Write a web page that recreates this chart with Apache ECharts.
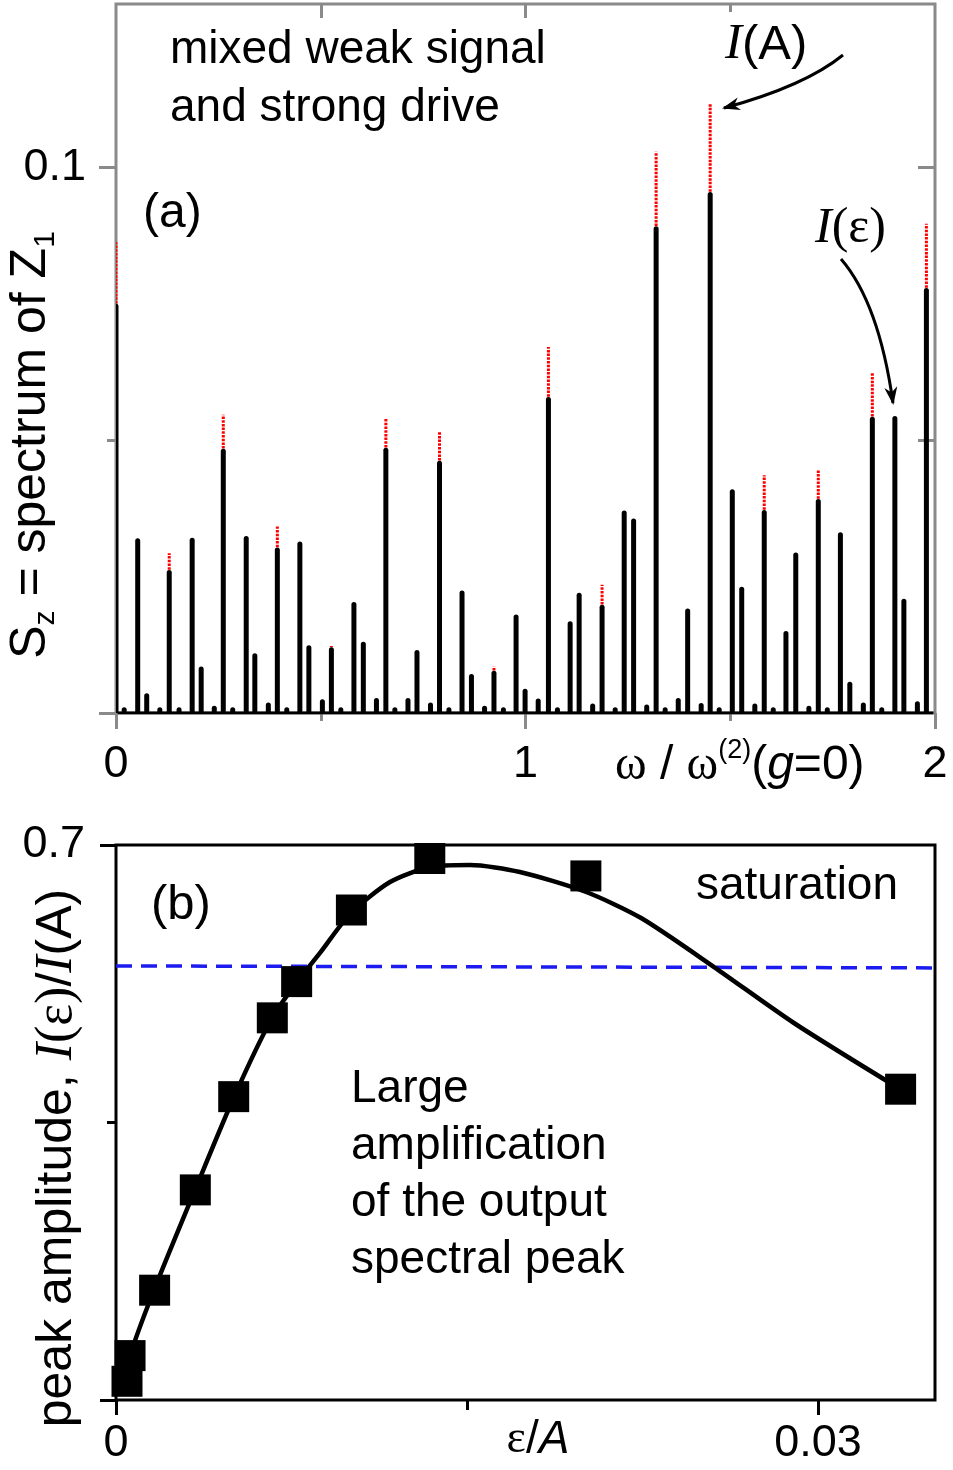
<!DOCTYPE html>
<html><head><meta charset="utf-8">
<script src="https://cdn.jsdelivr.net/npm/echarts@6/dist/echarts.min.js"></script>
<style>html,body{margin:0;padding:0;background:#fff}#c{width:953px;height:1470px}</style>
</head><body><div id="c"></div>
<script>
// ---------- Panel (a): spectrum ----------
const omega = [0.000,0.020,0.053,0.075,0.107,0.130,0.154,0.186,0.208,0.240,0.262,0.285,0.318,0.339,0.372,0.394,0.417,0.449,0.471,0.504,0.526,0.549,0.581,0.604,0.636,0.659,0.681,0.713,0.735,0.768,0.790,0.813,0.845,0.868,0.900,0.923,0.946,0.977,0.999,1.031,1.056,1.078,1.109,1.131,1.164,1.187,1.219,1.241,1.264,1.296,1.319,1.341,1.373,1.396,1.429,1.451,1.473,1.505,1.528,1.560,1.583,1.605,1.636,1.660,1.692,1.715,1.737,1.769,1.792,1.825,1.847,1.870,1.902,1.924,1.957,1.979];
const peakBlack = [0.0744,0.0004,0.0314,0.0030,0.0004,0.0256,0.0004,0.0315,0.0079,0.0007,0.0478,0.0004,0.0318,0.0103,0.0013,0.0297,0.0004,0.0308,0.0118,0.0019,0.0114,0.0004,0.0197,0.0124,0.0021,0.0480,0.0004,0.0021,0.0109,0.0013,0.0456,0.0004,0.0218,0.0065,0.0007,0.0071,0.0004,0.0174,0.0038,0.0020,0.0573,0.0004,0.0162,0.0214,0.0011,0.0192,0.0004,0.0365,0.0350,0.0009,0.0886,0.0004,0.0021,0.0185,0.0012,0.0949,0.0004,0.0404,0.0225,0.0011,0.0366,0.0004,0.0144,0.0288,0.0007,0.0386,0.0004,0.0325,0.0051,0.0013,0.0537,0.0004,0.0538,0.0203,0.0015,0.0773];
const peakRed = [0.0863,null,null,null,null,0.0293,null,null,null,null,0.0547,null,null,null,null,0.0342,null,null,null,null,0.0123,null,null,null,null,0.0540,null,null,null,null,0.0515,null,null,null,null,0.0085,null,null,null,null,0.0671,null,null,null,null,0.0235,null,null,null,null,0.1029,null,null,null,null,0.1118,null,null,null,null,0.0436,null,null,null,null,0.0446,null,null,null,null,0.0624,null,null,null,null,0.0897];
const xTicksA = [0, 1, 2];
const xMinorA = [0.5, 1.5];
const yTicksA = [0, 0.1];
const yMinorA = [0.05];

// ---------- Panel (b): peak amplitude ----------
const epsPts   = [0.00047,0.0006,0.00165,0.00339,0.00503,0.00668,0.00772,0.01006,0.01341,0.02008,0.03353];
const ratioPts = [0.0236,0.056,0.1385,0.265,0.3826,0.482,0.5277,0.618,0.683,0.661,0.392];
const fitEps   = [0.00047,0.000598,0.001624,0.003376,0.005043,0.006667,0.007735,0.008718,0.0100,0.01171,0.01342,0.01513,0.01726,0.02009,0.02244,0.02556,0.02897,0.0335];
const fitRatio = [0.02396,0.0555,0.1387,0.2649,0.3822,0.4818,0.5272,0.5638,0.6130,0.6533,0.6723,0.6748,0.6659,0.6407,0.6079,0.5461,0.4755,0.3923];
const thresholdEps = [0, 0.035];
const thresholdRatio = [0.5475, 0.545];
const xTicksB = [0, 0.03];
const xMinorB = [0.015];
const yTicksB = [0, 0.7];
const yMinorB = [0.35];

const SANS = "'Liberation Sans', Arial, sans-serif";
const SERIF = "'Liberation Serif', 'Times New Roman', serif";
const GRAY = '#8a8a8a';

const blackData = omega.map((w, i) => [w, peakBlack[i]]);
const redData = [];
omega.forEach((w, i) => { if (peakRed[i] != null) redData.push([w, peakBlack[i], peakRed[i]]); });

function tickAxis(o) {
  return Object.assign({
    type: 'value', axisLine: {show: false, onZero: false}, splitLine: {show: false},
    axisLabel: {show: false}
  }, o);
}

const chart = echarts.init(document.getElementById('c'), null, {renderer: 'canvas'});

function arrowHead(tip, from, len, half) {
  const dx = tip[0] - from[0], dy = tip[1] - from[1];
  const L = Math.hypot(dx, dy), ux = dx / L, uy = dy / L;
  const px = -uy, py = ux;
  const bx = tip[0] - ux * len, by = tip[1] - uy * len;
  const nx = tip[0] - ux * len * 0.7, ny = tip[1] - uy * len * 0.7;
  return [tip, [bx + px * half, by + py * half], [nx, ny], [bx - px * half, by - py * half]];
}

const arrA = {s: [843, 55], c: [805, 86], e: [724, 108]};
const arrE = {s: [841, 259], c: [879, 303], e: [893, 403]};

const option = {
  animation: false,
  backgroundColor: '#fff',
  grid: [
    {left: 116, top: 4, width: 819, height: 709, show: true, borderColor: GRAY, borderWidth: 3, containLabel: false},
    {left: 116, top: 845, width: 819, height: 555, show: true, borderColor: '#000', borderWidth: 3, containLabel: false}
  ],
  xAxis: [
    tickAxis({gridIndex: 0, position: 'bottom', min: 0, max: 2,
      axisTick: {show: true, customValues: xTicksA, length: 16, lineStyle: {color: GRAY, width: 3}},
      axisLabel: {show: true, customValues: xTicksA, fontSize: 45, fontFamily: SANS, color: '#000', margin: 29}}),
    tickAxis({gridIndex: 0, position: 'bottom', min: 0, max: 2,
      axisTick: {show: true, customValues: xMinorA, length: 8, lineStyle: {color: GRAY, width: 3}}}),
    tickAxis({gridIndex: 0, position: 'top', min: 0, max: 2,
      axisTick: {show: true, inside: true, customValues: [0.5, 1], length: 14, lineStyle: {color: GRAY, width: 3}}}),
    tickAxis({gridIndex: 0, position: 'top', min: 0, max: 2,
      axisTick: {show: true, inside: true, customValues: [1.5], length: 8, lineStyle: {color: GRAY, width: 3}}}),
    tickAxis({gridIndex: 1, position: 'bottom', min: 0, max: 0.035,
      axisTick: {show: true, customValues: xTicksB, length: 15, lineStyle: {color: '#000', width: 3}},
      axisLabel: {show: true, customValues: xTicksB, fontSize: 45, fontFamily: SANS, color: '#000', margin: 21}}),
    tickAxis({gridIndex: 1, position: 'bottom', min: 0, max: 0.035,
      axisTick: {show: true, customValues: xMinorB, length: 10, lineStyle: {color: '#000', width: 3}}})
  ],
  yAxis: [
    tickAxis({gridIndex: 0, position: 'left', min: 0, max: 0.13,
      axisTick: {show: true, customValues: yTicksA, length: 17, lineStyle: {color: GRAY, width: 3}},
      axisLabel: {show: true, customValues: [0.1], fontSize: 45, fontFamily: SANS, color: '#000', margin: 30}}),
    tickAxis({gridIndex: 0, position: 'left', min: 0, max: 0.13,
      axisTick: {show: true, customValues: yMinorA, length: 9, lineStyle: {color: GRAY, width: 3}}}),
    tickAxis({gridIndex: 0, position: 'right', min: 0, max: 0.13,
      axisTick: {show: true, inside: true, customValues: [0.05, 0.1], length: 17, lineStyle: {color: GRAY, width: 3}}}),
    tickAxis({gridIndex: 1, position: 'left', min: 0, max: 0.7,
      axisTick: {show: true, customValues: yTicksB, length: 16, lineStyle: {color: '#000', width: 3}},
      axisLabel: {show: true, customValues: [0.7], fontSize: 45, fontFamily: SANS, color: '#000', margin: 31}}),
    tickAxis({gridIndex: 1, position: 'left', min: 0, max: 0.7,
      axisTick: {show: true, customValues: yMinorB, length: 9, lineStyle: {color: '#000', width: 3}}})
  ],
  series: [
    {
      type: 'custom', xAxisIndex: 0, yAxisIndex: 0, clip: true, z: 2,
      data: redData, encode: {x: 0, y: [1, 2]},
      renderItem: function (params, api) {
        const a = api.coord([api.value(0), api.value(1)]);
        const b = api.coord([api.value(0), api.value(2)]);
        return {type: 'line', shape: {x1: a[0], y1: a[1], x2: b[0], y2: b[1]},
          style: {stroke: '#ff0000', lineWidth: 3, lineDash: [2.5, 1.2]}};
      }
    },
    {
      type: 'custom', xAxisIndex: 0, yAxisIndex: 0, clip: true, z: 3,
      data: blackData, encode: {x: 0, y: 1},
      renderItem: function (params, api) {
        const a = api.coord([api.value(0), 0]);
        const b = api.coord([api.value(0), api.value(1)]);
        return {type: 'line', shape: {x1: a[0], y1: a[1], x2: b[0], y2: b[1] - 1},
          style: {stroke: '#000', lineWidth: 5, lineCap: 'round'}};
      }
    },
    {
      type: 'line', xAxisIndex: 0, yAxisIndex: 0, z: 4, symbol: 'none',
      data: [[0.004, 0], [1.996, 0]], lineStyle: {color: '#000', width: 3}
    },
    {
      type: 'line', xAxisIndex: 4, yAxisIndex: 3, z: 2, symbol: 'none',
      data: thresholdEps.map((x, i) => [x, thresholdRatio[i]]),
      lineStyle: {color: '#1c1cf0', width: 3.5, type: [16, 9]}
    },
    {
      type: 'line', xAxisIndex: 4, yAxisIndex: 3, z: 3, symbol: 'none', smooth: 0.25,
      data: fitEps.map((x, i) => [x, fitRatio[i]]),
      lineStyle: {color: '#000', width: 4.5}
    },
    {
      type: 'scatter', xAxisIndex: 4, yAxisIndex: 3, z: 4, symbol: 'rect', symbolSize: 31,
      data: epsPts.map((x, i) => [x, ratioPts[i]]),
      itemStyle: {color: '#000', opacity: 1}
    }
  ],
  graphic: [
    {type: 'text', x: 170, y: 50, style: {text: 'mixed weak signal', font: '46px ' + SANS, fill: '#000', align: 'left', verticalAlign: 'middle'}},
    {type: 'text', x: 170, y: 108, style: {text: 'and strong drive', font: '46px ' + SANS, fill: '#000', align: 'left', verticalAlign: 'middle'}},
    {type: 'text', x: 143, y: 214, style: {text: '(a)', font: '48px ' + SANS, fill: '#000', align: 'left', verticalAlign: 'middle'}},
    {type: 'text', x: 725, y: 45, style: {text: '{i|I}{s|(A)}', align: 'left', verticalAlign: 'middle',
      rich: {i: {fontFamily: SERIF, fontStyle: 'italic', fontSize: 51, fill: '#000'}, s: {fontFamily: SANS, fontSize: 49, fill: '#000'}}}},
    {type: 'text', x: 815, y: 229, style: {text: '{i|I}{s|(ε)}', align: 'left', verticalAlign: 'middle',
      rich: {i: {fontFamily: SERIF, fontStyle: 'italic', fontSize: 50, fill: '#000'}, s: {fontFamily: SERIF, fontSize: 50, fill: '#000'}}}},
    {type: 'bezierCurve', shape: {x1: arrA.s[0], y1: arrA.s[1], cpx1: arrA.c[0], cpy1: arrA.c[1], x2: arrA.e[0], y2: arrA.e[1]}, style: {stroke: '#000', lineWidth: 3, fill: null}},
    {type: 'polygon', shape: {points: arrowHead([arrA.e[0] - 2, arrA.e[1] + 0.5], arrA.c, 18, 6.5)}, style: {fill: '#000'}},
    {type: 'bezierCurve', shape: {x1: arrE.s[0], y1: arrE.s[1], cpx1: arrE.c[0], cpy1: arrE.c[1], x2: arrE.e[0], y2: arrE.e[1]}, style: {stroke: '#000', lineWidth: 3, fill: null}},
    {type: 'polygon', shape: {points: arrowHead([arrE.e[0] + 0.3, arrE.e[1] + 2], arrE.c, 18, 6.5)}, style: {fill: '#000'}},
    {type: 'text', x: 615, y: 766, style: {text: '{w|ω}{s| / }{w|ω}{sup|(2)}{s|(}{g|g}{s|=0)}', align: 'left', verticalAlign: 'middle',
      rich: {w: {fontFamily: SERIF, fontSize: 48, fill: '#000', lineHeight: 58},
             s: {fontFamily: SANS, fontSize: 48, fill: '#000', lineHeight: 58},
             g: {fontFamily: SANS, fontStyle: 'italic', fontSize: 48, fill: '#000', lineHeight: 58},
             sup: {fontFamily: SANS, fontSize: 27, fill: '#000', lineHeight: 18, verticalAlign: 'top'}}}},
    {type: 'text', x: 31, y: 445, rotation: Math.PI / 2, style: {text: '{m|S}{sub|z}{m| = spectrum of }{m|Z}{sub|1}', align: 'center', verticalAlign: 'middle',
      rich: {m: {fontFamily: SANS, fontSize: 50, fill: '#000', lineHeight: 60},
             sub: {fontFamily: SANS, fontSize: 30, fill: '#000', lineHeight: 20, verticalAlign: 'bottom'}}}},
    {type: 'text', x: 57, y: 1158, rotation: Math.PI / 2, style: {text: '{m|peak amplitude, }{i|I}{r|(ε)}{m|/}{i|I}{m|(A)}', align: 'center', verticalAlign: 'middle',
      rich: {m: {fontFamily: SANS, fontSize: 50, fill: '#000'},
             i: {fontFamily: SERIF, fontStyle: 'italic', fontSize: 52, fill: '#000'},
             r: {fontFamily: SERIF, fontSize: 52, fill: '#000'}}}},
    {type: 'text', x: 151, y: 905, style: {text: '(b)', font: '49px ' + SANS, fill: '#000', align: 'left', verticalAlign: 'middle'}},
    {type: 'text', x: 696, y: 886, style: {text: 'saturation', font: '46px ' + SANS, fill: '#000', align: 'left', verticalAlign: 'middle'}},
    {type: 'text', x: 351, y: 1089, style: {text: 'Large', font: '46px ' + SANS, fill: '#000', align: 'left', verticalAlign: 'middle'}},
    {type: 'text', x: 351, y: 1146, style: {text: 'amplification', font: '46px ' + SANS, fill: '#000', align: 'left', verticalAlign: 'middle'}},
    {type: 'text', x: 351, y: 1203, style: {text: 'of the output', font: '46px ' + SANS, fill: '#000', align: 'left', verticalAlign: 'middle'}},
    {type: 'text', x: 351, y: 1260, style: {text: 'spectral peak', font: '46px ' + SANS, fill: '#000', align: 'left', verticalAlign: 'middle'}},
    {type: 'text', x: 538, y: 1440, style: {text: '{e|ε}{s|/}{a|A}', align: 'center', verticalAlign: 'middle',
      rich: {e: {fontFamily: SERIF, fontSize: 46, fill: '#000'}, s: {fontFamily: SANS, fontSize: 46, fill: '#000'}, a: {fontFamily: SANS, fontStyle: 'italic', fontSize: 46, fill: '#000'}}}}
  ]
};
chart.setOption(option);
</script>
</body></html>
